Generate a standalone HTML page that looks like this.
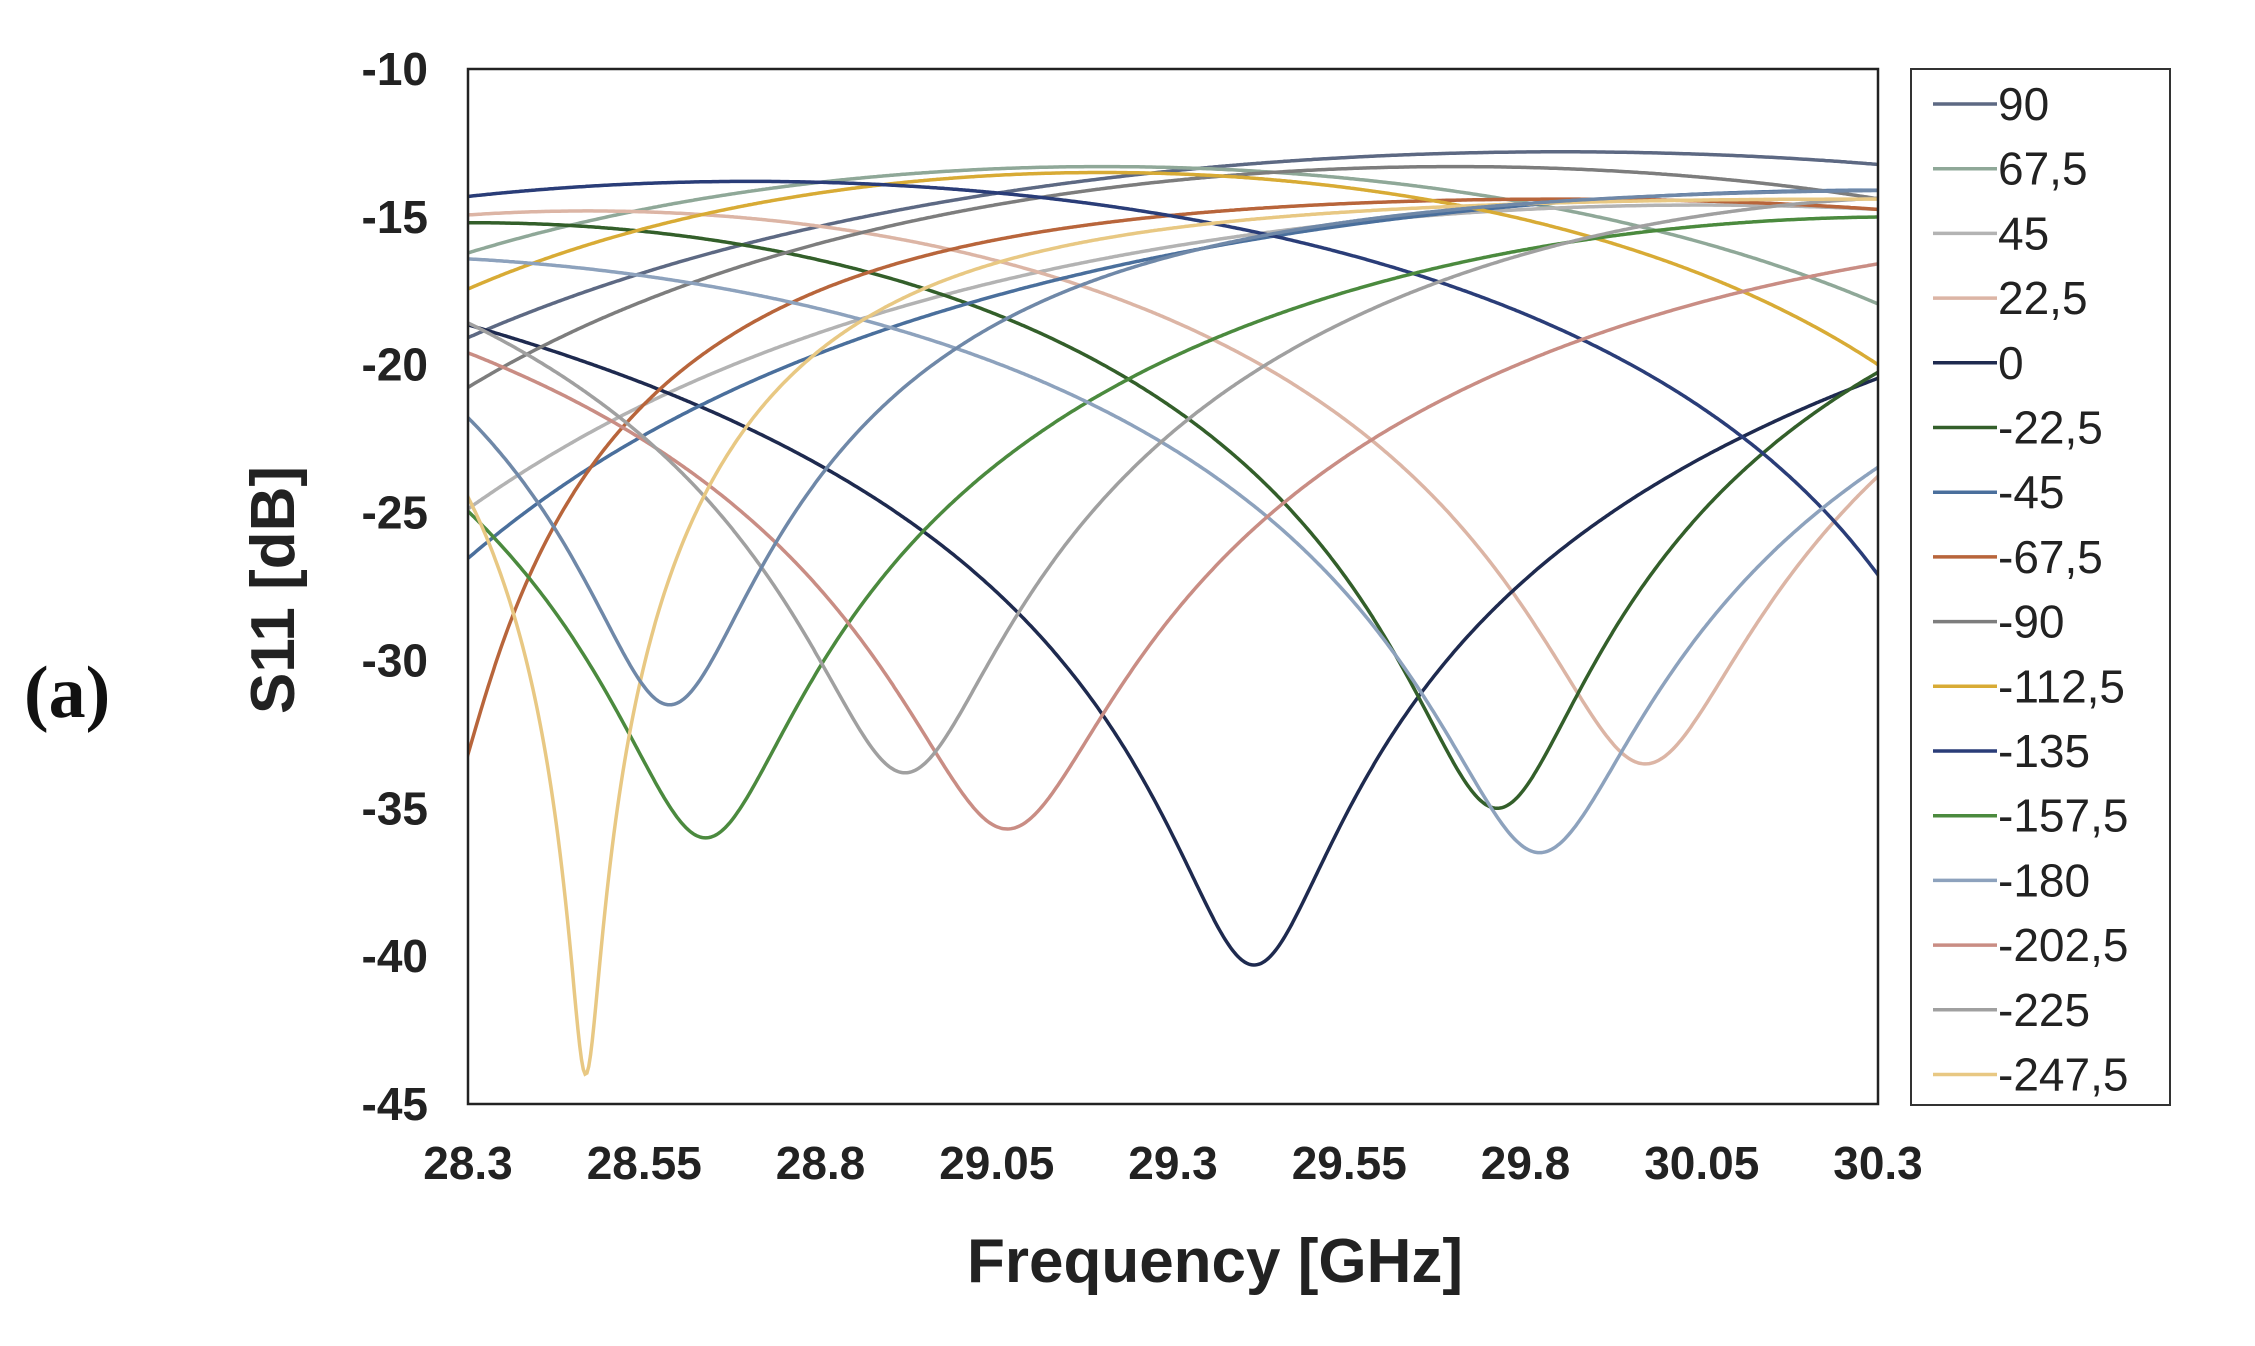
<!DOCTYPE html>
<html><head><meta charset="utf-8"><style>
body{margin:0;background:#fff;}
svg{display:block;font-family:"Liberation Sans",Arial,sans-serif;}
</style></head><body>
<svg id="s" width="2255" height="1346" viewBox="0 0 2255 1346" xmlns="http://www.w3.org/2000/svg">
<defs><clipPath id="c"><rect x="468" y="69" width="1410" height="1035"/></clipPath></defs>
<rect width="2255" height="1346" fill="#fff"/>
<g id="curves" clip-path="url(#c)" fill="none" stroke-width="3.5"></g>
<rect x="468" y="69" width="1410" height="1035" fill="none" stroke="#222" stroke-width="2.5"/>
<g id="ticks" font-weight="bold" font-size="46" fill="#222"></g>
<text x="1215" y="1282" font-size="62" font-weight="bold" text-anchor="middle" fill="#222">Frequency [GHz]</text>
<text transform="translate(294,590) rotate(-90)" font-size="62" font-weight="bold" text-anchor="middle" fill="#222">S11 [dB]</text>
<text x="24" y="717" font-size="74" font-weight="bold" font-family="Liberation Serif,serif" fill="#111">(a)</text>
<rect x="1911" y="69" width="259" height="1036" fill="#fff" stroke="#333" stroke-width="2"/>
<g id="leg" font-size="46" fill="#222"></g>
</svg>
<script>
const X=f=>468+(f-28.3)/2*1410, Y=d=>69+(-10-d)/35*1035;
function crv(f0,D,B,P,k,col){
  const Dl=Math.pow(10,D/10),Bl=Math.pow(10,B/10);let p="";
  for(let i=0;i<=800;i++){const f=28.28+i*2.04/800;let u=Math.pow(Math.sin(Math.PI*(f-f0)/P),2);
    let s=k?u*(1+k)/(u+k):u;const d=10*Math.log10(Dl+(Bl-Dl)*s);
    p+=(i?"L":"M")+X(f).toFixed(1)+","+Y(d).toFixed(1);}
  return `<path d="${p}" stroke="${col}"/>`;}
const C=[
[27.6,-30,-12.8,4.5,0,"#5d6983"],
[31.0,-30,-13.3,3.6,0,"#8fa898"],
[27.95,-30,-14.6,4.2,0,"#b3b3b3"],
[29.97,-33.5,-14.8,3.0,0,"#dcb5a5"],
[29.415,-40.3,-13.5,6.0,0,"#1e2a4f"],
[29.76,-35,-15.2,2.9,0,"#335f2a"],
[28.0,-32,-14.1,4.6,0,"#4a6f9c"],
[28.25,-36,-14.4,3.2,0.6,"#b8653b"],
[27.8,-30,-13.3,3.8,0,"#7d7d7d"],
[30.8,-40,-13.5,3.2,0,"#d8ab35"],
[30.55,-40,-13.8,3.7,0,"#2a3d78"],
[28.637,-36,-15,3.4,0,"#4b8a3e"],
[29.82,-36.5,-16.3,3.4,0,"#8da2bd"],
[29.065,-35.7,-15.5,3.6,0,"#c98d84"],
[28.92,-33.8,-14.3,3.0,0,"#a0a0a0"],
[28.467,-44,-14.4,3.6,0.25,"#e8c883"],
[28.586,-31.5,-14.1,3.6,0.55,"#6f88a8"]];
let h="";C.forEach(c=>h+=crv(...c));document.getElementById("curves").innerHTML=h;
let t="";
for(let i=0;i<8;i++){const d=-10-5*i;t+=`<text x="428" y="${Y(d)+16}" text-anchor="end">${d}</text>`;}
["28.3","28.55","28.8","29.05","29.3","29.55","29.8","30.05","30.3"].forEach(v=>{t+=`<text x="${X(+v)}" y="1179" text-anchor="middle">${v}</text>`;});
document.getElementById("ticks").innerHTML=t;
const L=["90","67,5","45","22,5","0","-22,5","-45","-67,5","-90","-112,5","-135","-157,5","-180","-202,5","-225","-247,5"];
let g="";L.forEach((l,i)=>{const y=104+i*64.7;g+=`<line x1="1933" x2="1997" y1="${y}" y2="${y}" stroke="${C[i][5]}" stroke-width="3.5"/><text x="1998" y="${y+16}">${l}</text>`;});
document.getElementById("leg").innerHTML=g;
</script>
</body></html>
